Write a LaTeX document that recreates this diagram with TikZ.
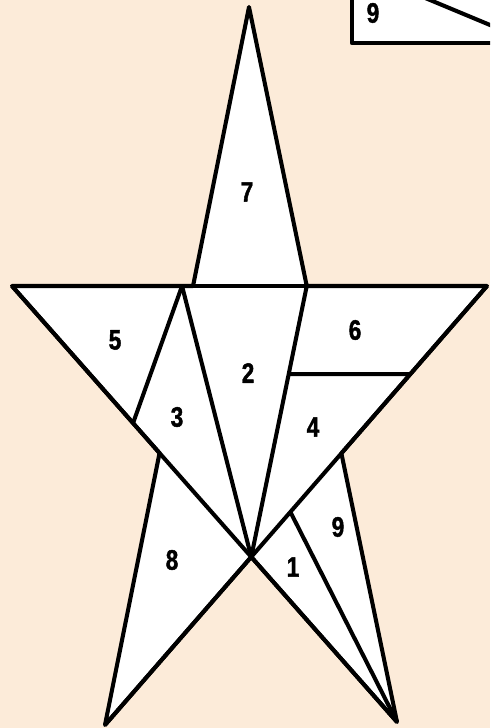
\documentclass[tikz,border=0pt]{standalone}
\usepackage{fontspec}
\usepackage{xcolor}
\usepackage{tikz}
\newfontfamily\numfont[FakeStretch=0.8,FakeBold=1.5]{Liberation Sans}
\definecolor{peachbg}{RGB}{252,235,217}
\usetikzlibrary{calc}

\begin{document}
\begin{tikzpicture}[scale=1, line join=round,
    piece/.style={line width=2.3pt},
    num/.style={font=\numfont\bfseries\fontsize{16}{16}\selectfont}]
  \useasboundingbox (0,0) rectangle (9.8,14.56);
  \fill[peachbg] (0,0) rectangle (9.8,14.56);
  \clip (0,0) rectangle (9.8,14.56);
  % star tips
  \coordinate (A) at (4.98,14.42);
  \coordinate (L) at (0.24,8.84);
  \coordinate (R) at (9.74,8.84);
  \coordinate (BL) at (2.10,0.06);
  \coordinate (BR) at (7.94,0.12);
  % inner corners
  \coordinate (O) at (intersection of L--BR and R--BL);
  \coordinate (P1) at (intersection of A--BL and L--R);
  \coordinate (P2) at (intersection of A--BR and L--R);
  \coordinate (P3) at (intersection of A--BL and L--BR);
  \coordinate (P4) at (intersection of A--BR and R--BL);
  % cut points
  \coordinate (Q) at ($(L)!0.358!(R)$);
  \coordinate (S) at ($(L)!0.506!(O)$);
  \coordinate (T) at ($(P2)!0.325!(O)$);
  \coordinate (U) at ($(R)!0.325!(O)$);
  \coordinate (V) at ($(O)!0.166!(R)$);
  % outline
  \filldraw[piece, fill=white] (A) -- (P2) -- (R) -- (P4) -- (BR) -- (O)
    -- (BL) -- (P3) -- (L) -- (P1) -- cycle;
  \draw[piece, line width=2.8pt] (L) -- (R);
  \draw[piece] (L) -- (BR);
  \draw[piece] (R) -- (BL);
  \draw[piece] (Q) -- (S);
  \draw[piece] (Q) -- (O);
  \draw[piece] (P2) -- (O);
  \draw[piece] (T) -- (U);
  \draw[piece] (V) -- (BR);
  % labels
  \node[num] (n7) at (4.94,10.72) {7};
  \node[num] (n5) at (2.30,7.76) {5};
  \node[num] (n6) at (7.10,7.96) {6};
  \node[num] (n2) at (4.96,7.10) {2};
  \node[num] (n3) at (3.54,6.22) {3};
  \node[num] (n4) at (6.26,6.02) {4};
  \node[num] (n8) at (3.44,3.36) {8};
  \node[num] (n1) at (5.86,3.22) {1};
  \node[num] (n9) at (6.76,4.02) {9};
  % corner of the next figure
  \filldraw[piece, line width=2.6pt, fill=white] (7.04,13.70) rectangle (10.2,15.0);
  \draw[piece] (8.36,14.66) -- (10.04,13.96);
  \node[num] (k9) at (7.46,14.30) {9};
\end{tikzpicture}
\end{document}
